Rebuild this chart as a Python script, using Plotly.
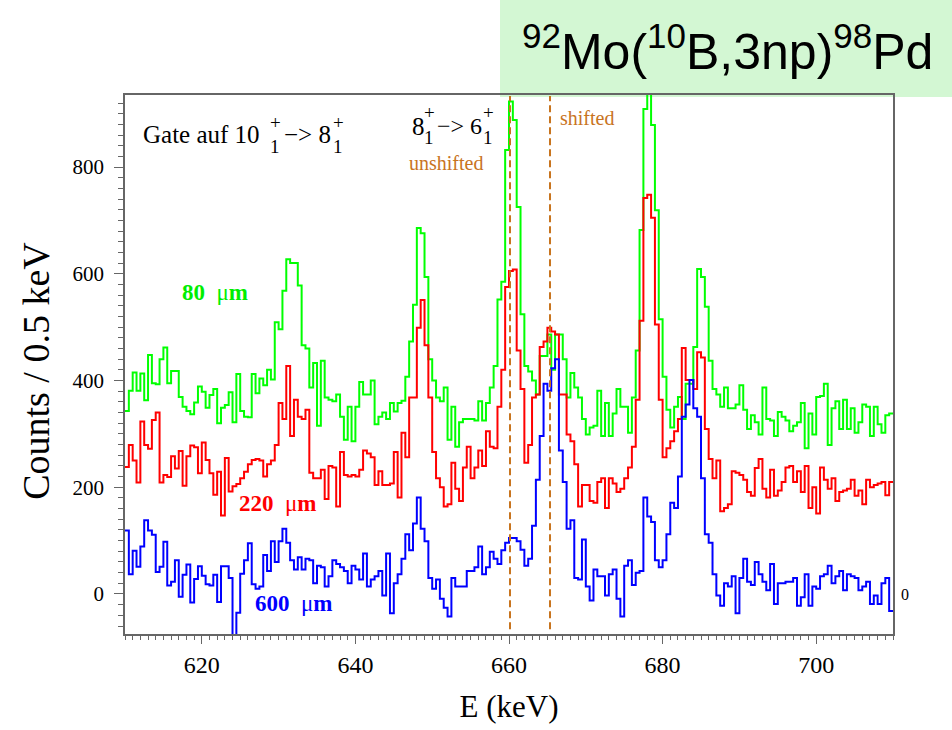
import plotly.graph_objects as go

# ---------------- data ----------------
E_START = 610.0      # keV, lower edge of first bin
BIN_WIDTH = 0.5      # keV per bin

green_80um = [
    343, 381, 415, 381, 413, 363, 448, 395, 393, 440,
    462, 395, 418, 418, 369, 351, 343, 337, 359, 389,
    379, 349, 373, 384, 320, 349, 354, 378, 322, 412,
    343, 332, 331, 412,
    376, 404, 391, 420, 402, 509, 496, 568, 627, 620,
    620, 578, 466, 460, 387, 433, 315, 437, 368, 364,
    361, 374, 332, 289, 351, 286, 351, 397, 374, 374,
    400, 318, 332,
    340, 328, 358, 342, 358, 362, 407, 473, 542, 686,
    676, 594, 440, 400, 368, 361, 387, 289, 351, 276,
    322, 328, 328, 328, 325, 361, 325, 358, 387, 427,
    552, 585, 832, 923, 888, 725, 524,
    427, 417, 400, 374, 446, 446, 486, 420, 486, 486,
    440, 368, 414, 387, 368, 328, 299, 312, 315, 381,
    296, 358, 296, 338, 384, 351, 351, 302, 368, 456,
    682,
    909, 960, 879, 719, 515, 407, 345, 312, 351, 369,
    328, 394, 394, 463, 609, 594, 538, 437, 384, 374,
    351, 387, 348, 348, 355, 391, 345, 309, 335, 322,
    299, 387,
    328, 325, 296, 341, 332, 325, 305, 315, 322, 358,
    273, 338, 299, 369, 371, 394, 279, 348, 361, 309,
    364, 309, 348, 302, 322, 355, 351, 296, 351, 318,
    302, 335, 338,
]

red_220um = [
    238, 279, 250, 209, 323, 279, 272, 326, 340, 209,
    223, 219, 258, 235, 268, 203, 258, 278, 275, 226,
    284, 251, 226, 186, 229, 147, 255, 192, 202, 206,
    217, 229, 243, 251,
    253, 250, 220, 243, 250, 279, 358, 328, 427, 296,
    364, 332, 328, 345, 227, 217, 217, 233, 178, 240,
    237, 164, 266, 223, 220, 223, 220, 233, 269, 263,
    256, 204, 230,
    204, 204, 207, 266, 181, 302, 256, 368, 368, 499,
    551, 466, 368, 266, 217, 200, 164, 168, 246, 197,
    174, 237, 276, 217, 237, 269, 240, 305, 276, 273,
    351, 420, 575, 605,
    608, 456, 384, 246, 279, 368, 374, 463, 473, 499,
    492, 486, 374, 374, 299, 286, 243, 164, 204, 204,
    174, 171, 210, 217, 161, 217, 207, 191, 197, 217,
    237, 276, 364, 512,
    742, 748, 705, 505, 364, 256, 273, 286, 305, 328,
    461, 401, 401, 384, 453, 443, 309, 253, 217, 250,
    155, 161, 168, 230, 227, 223, 214, 191, 184, 236,
    253, 197,
    181, 233, 184, 194, 210, 237, 240, 210, 230, 191,
    240, 161, 200, 151, 237, 214, 197, 217, 174, 191,
    194, 197, 214, 184, 194, 168, 214, 200, 204, 207,
    210, 185, 210,
]

blue_600um = [
    119, 37, 81, 51, 89, 138, 119, 111, 41, 51,
    98, 16, 23, 63, -5, 36, 55, -16, 28, 52,
    34, 18, 16, 36, -15, 52, 52, 30, -90, -35,
    38, 63, 95, 18,
    10, 14, 73, 43, 99, 60, 99, 122, 96, 63,
    46, 69, 46, 66, 63, 20, 53, 50, 14, 33,
    63, 56, 50, 43, 20, 53, 46, 27, 76, 14,
    27, 33, 43,
    -3, 76, -36, 20, 37, 66, 112, 82, 132, 181,
    122, 99, 30, 10, 27, -9, -26, -42, 30, 14,
    14, 14, 43, 43, 50, 89, 37, 50, 79, 66,
    56, 82, 96, 105,
    105, 99, 83, 53, 66, 128, 214, 296, 394, 381,
    423, 440, 269, 210, 122, 138, 30, 27, 102, 14,
    -12, 46, 33, 33, -3, 37, 46, -9, -42, 53,
    63, 17, 40, 43,
    181, 145, 135, 63, 50, 63, 112, 171, 161, 220,
    332, 355, 401, 348, 332, 217, 112, 96, 37, -3,
    -22, 20, 14, 33, -36, 30, 66, 23, 17, 60,
    37, 23,
    7, 56, -19, 20, 20, 23, 23, 30, -22, -6,
    37, -22, 14, 10, 33, 37, 53, 20, 33, 43,
    7, 37, 33, 30, 7, 14, 23, -19, -3, -19,
    20, 30, -32,
]

series_names = ["80 μm", "220 μm", "600 μm"]
line_unshifted = 660.13   # keV
line_shifted = 665.34     # keV

x_ticks = [620, 640, 660, 680, 700]
y_ticks = [0, 200, 400, 600, 800]

# ---------------- figure ----------------
SERIF = "Liberation Serif, Times New Roman, serif"
SANS = "Liberation Sans, Arial, sans-serif"
ORANGE = "#c8741e"

W, H = 952, 730
PL, PR, PT, PB = 125, 893, 95, 648     # plot area in page pixels
PW, PH = PR - PL, PB - PT


def px2paper_x(px):
    return (px - PL) / PW


def py2paper_y(py):
    return (PB - py) / PH


n = len(green_80um)
edges = [E_START + BIN_WIDTH * i for i in range(n + 1)]

fig = go.Figure()
for vals, color, name in [(green_80um, "#00ff00", series_names[0]),
                          (red_220um, "#ff0000", series_names[1]),
                          (blue_600um, "#0000ff", series_names[2])]:
    fig.add_trace(go.Scatter(
        x=edges, y=list(vals) + [vals[-1]], mode="lines", name=name,
        line=dict(color=color, width=2, shape="hv"),
        hoverinfo="skip", showlegend=False))

for xv in (line_unshifted, line_shifted):
    fig.add_shape(type="line", xref="x", yref="y", x0=xv, x1=xv, y0=-66, y1=933,
                  line=dict(color=ORANGE, width=2, dash="7px,4px"))

# title box
fig.add_shape(type="rect", xref="paper", yref="paper",
              x0=px2paper_x(500), x1=px2paper_x(960),
              y0=py2paper_y(97), y1=py2paper_y(-10),
              fillcolor="#d3f7d3", line=dict(width=0), layer="below")


def ptext(text, px, py, size, color="black", family=SERIF, xanchor="center", **kw):
    """annotation placed in page pixel coordinates"""
    d = dict(text=text, xref="paper", yref="paper", x=px2paper_x(px), y=py2paper_y(py),
             xanchor=xanchor, yanchor="middle", showarrow=False, borderpad=0,
             font=dict(family=family, size=size, color=color))
    d.update(kw)
    return d


ann = [
    ptext("<sup>92</sup>Mo(<sup>10</sup>B,3np)<sup>98</sup>Pd", 727, 47, 50, family=SANS),
    ptext("Counts / 0.5 keV", 36, 378, 38, textangle=-90),
    # Gate auf 10+1 -> 8+1 (stacked super/subscripts)
    ptext("Gate auf 10", 142, 136, 25, xanchor="left"),
    ptext("+", 275.5, 123, 19),
    ptext("1", 275, 148, 19),
    ptext("−> 8", 283, 136, 25, xanchor="left"),
    ptext("+", 338.5, 123, 19),
    ptext("1", 338, 148, 19),
    # 8+1 -> 6+1
    ptext("8", 411, 127, 25, xanchor="left"),
    ptext("+", 429.5, 113, 19),
    ptext("1", 429, 139, 19),
    ptext("−> 6", 436, 127, 24, xanchor="left"),
    ptext("+", 488.5, 113, 19),
    ptext("1", 488, 139, 19),
    ptext("0", 900, 607, 16, xanchor="left"),
    ptext("unshifted", 445.5, 164.5, 20, color=ORANGE),
    dict(text="shifted", x=670.1, y=891, font=dict(family=SERIF, size=20, color=ORANGE)),
    dict(text="<b>80</b>\u00a0\u00a0μ<b>m</b>", x=621.7, y=564,
         font=dict(family=SERIF, size=23, color="#00ee00")),
    dict(text="<b>220</b>\u00a0\u00a0μ<b>m</b>", x=629.9, y=170,
         font=dict(family=SERIF, size=23, color="#ff0000")),
    dict(text="<b>600</b>\u00a0\u00a0μ<b>m</b>", x=632.0, y=-18,
         font=dict(family=SERIF, size=23, color="#0000ff")),
]
for a in ann:
    a.setdefault("xref", "x")
    a.setdefault("yref", "y")
    a.setdefault("showarrow", False)
    fig.add_annotation(**a)

AXC = "#666666"
fig.update_layout(
    width=W, height=H,
    margin=dict(l=PL, r=W - PR, t=PT, b=H - PB),
    paper_bgcolor="white", plot_bgcolor="white",
    xaxis=dict(range=[610, 710], tickvals=x_ticks, ticks="outside", ticklen=8,
               tickcolor=AXC, showline=True, linecolor=AXC, linewidth=1.5, mirror=True,
               showgrid=False, zeroline=False,
               minor=dict(dtick=1, ticks="outside", ticklen=4, tickcolor=AXC),
               tickfont=dict(family=SERIF, size=24, color="black"),
               title=dict(text="E (keV)", font=dict(family=SERIF, size=31, color="black"),
                          standoff=19)),
    yaxis=dict(range=[-75, 935], tickvals=y_ticks, ticks="outside", ticklen=9,
               tickcolor=AXC, showline=True, linecolor=AXC, linewidth=1.5, mirror=True,
               showgrid=False, zeroline=False, ticklabelstandoff=6,
               minor=dict(dtick=20, ticks="outside", ticklen=5, tickcolor=AXC),
               tickfont=dict(family=SERIF, size=21, color="black")),
    xaxis2=dict(overlaying="x", side="top", anchor="y", range=[610, 710],
                tickvals=list(range(610, 711, 5)), ticks="outside", ticklen=7,
                tickcolor=AXC, showticklabels=False, showgrid=False, zeroline=False,
                showline=False),
    yaxis2=dict(overlaying="y", side="right", anchor="x", range=[-75, 935],
                tickvals=list(range(0, 901, 100)), showticklabels=False,
                ticks="outside", ticklen=8, tickcolor=AXC, showgrid=False, zeroline=False,
                showline=False,
                minor=dict(dtick=20, ticks="outside", ticklen=4, tickcolor=AXC)),
)

# remove the default 8px page margin so the figure sits at the window's top-left
fig.write_html("out.html", config={"displayModeBar": False},
               post_script="document.body.style.margin='0';")
